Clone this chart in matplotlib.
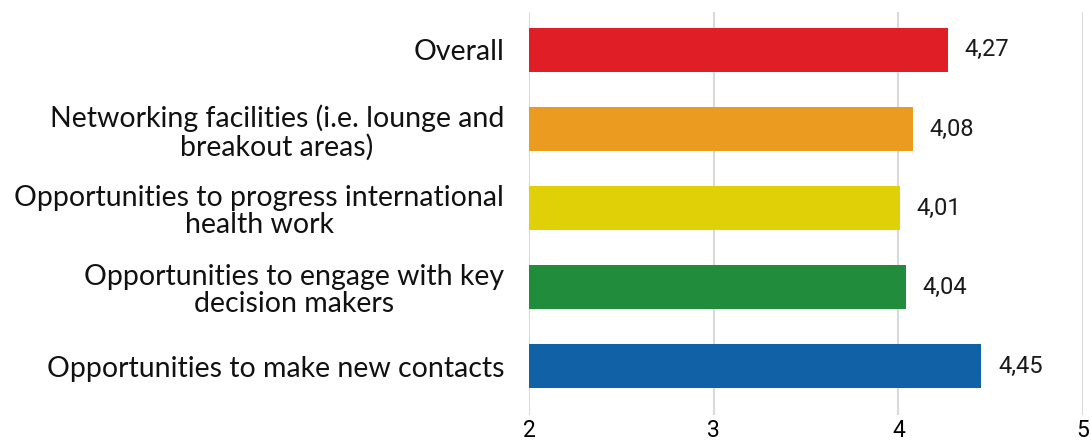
import matplotlib.pyplot as plt

categories = [
    "Opportunities to make new contacts",
    "Opportunities to engage with key\ndecision makers",
    "Opportunities to progress international\nhealth work",
    "Networking facilities (i.e. lounge and\nbreakout areas)",
    "Overall",
]
values = [4.45, 4.04, 4.01, 4.08, 4.27]
colors = ["#1061A6", "#218C3C", "#E0D008", "#EA9B20", "#DF1E26"]
xticks = [2, 3, 4, 5]

plt.rcParams["font.family"] = ["Lato", "DejaVu Sans"]

fig = plt.figure(figsize=(10.91, 4.44), dpi=100)
ax = fig.add_axes([0.485, 0.065, 0.5077, 0.908])

y = list(range(len(categories)))
ax.barh(y, [v - 2 for v in values], left=2, height=0.56, color=colors, zorder=3)

for yi, v in zip(y, values):
    ax.text(v + 0.09, yi, f"{v:.2f}".replace(".", ","), va="center", ha="left",
            fontsize=17, color="#1a1a1a", family=["Roboto", "DejaVu Sans"])

ax.set_xlim(2, 5)
ax.set_ylim(-0.62, 4.48)
ax.set_xticks(xticks)
ax.set_xticklabels([str(t) for t in xticks], fontsize=16.5, family=["Roboto", "DejaVu Sans"])
ax.set_yticks(y)
ax.set_yticklabels(categories, fontsize=20.5, ha="right", multialignment="center",
                   color="#111111", linespacing=1.08)
ax.tick_params(axis="both", length=0)
ax.tick_params(axis="y", pad=18)
ax.tick_params(axis="x", pad=3)
ax.grid(axis="x", color="#d9d9d9", linewidth=1.5, zorder=0)
for s in ax.spines.values():
    s.set_visible(False)

fig.savefig("out.png", dpi=100)
